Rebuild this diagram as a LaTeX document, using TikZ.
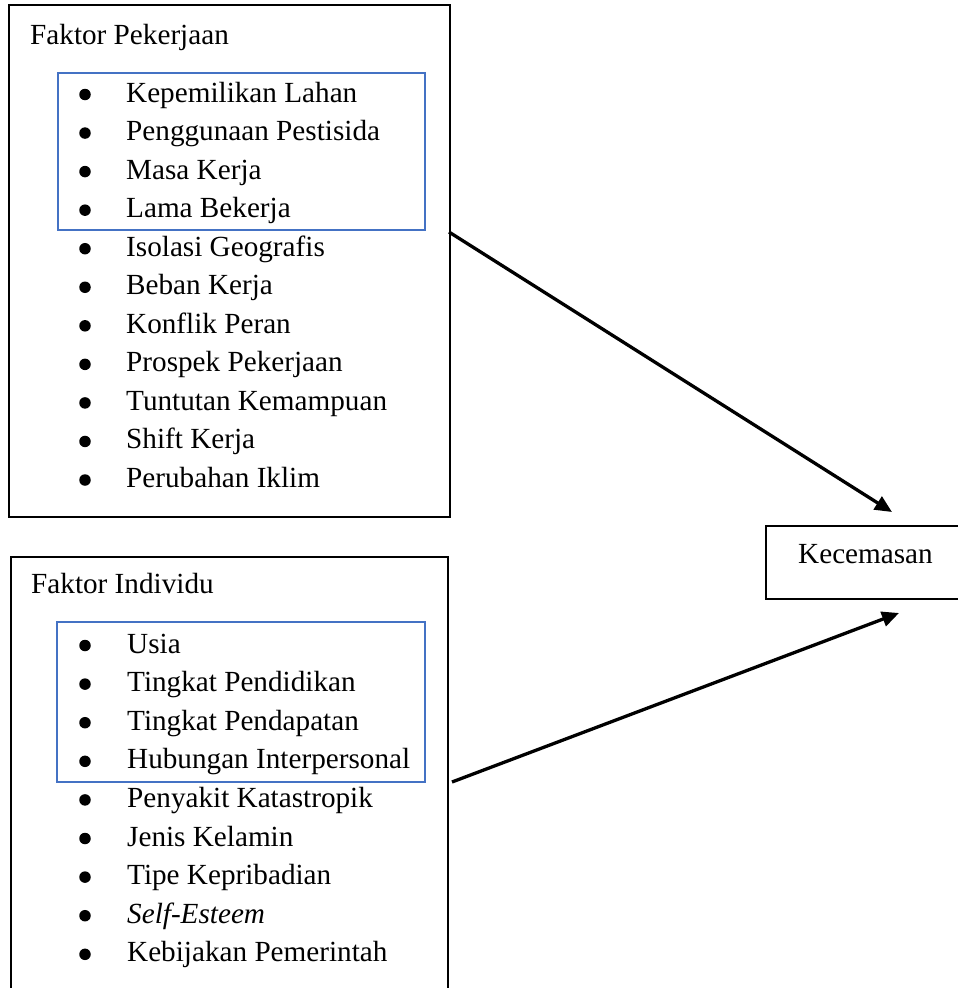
\documentclass[tikz,border=0pt]{standalone}
\usepackage{fontspec}
\setmainfont{Liberation Serif}
\usetikzlibrary{arrows.meta}
\definecolor{wordblue}{HTML}{4472C4}
\begin{document}
\begin{tikzpicture}[x=1pt,y=-1pt,
  outerbox/.style={draw=black, line width=1.5pt, inner sep=0pt, rectangle},
  bluebox/.style={draw=wordblue, line width=1.6pt},
  txt/.style={inner sep=0pt, anchor=base west, font=\fontsize{29.2}{35}\selectfont},
  bul/.style={circle, fill=black, inner sep=0pt, minimum size=11.5pt},
  arr/.style={line width=3.3pt, -{Triangle[length=17pt,width=15pt]}}]
\useasboundingbox (0,0) rectangle (958,988);
\clip (0,0) rectangle (958,988);
% outer boxes
\node[outerbox, minimum width=441pt, minimum height=512pt] (b1) at (229.5,261) {};
\node[outerbox, minimum width=437pt, minimum height=460pt] (b2) at (229.5,787) {};
\node[outerbox, minimum width=250pt, minimum height=73pt] (kbox) at (891,562.5) {};
% inner blue boxes
\draw[bluebox] (58,73) rectangle (425,230);
\draw[bluebox] (57,622) rectangle (425,782);
% titles
\node[txt] (t1) at (30,44) {Faktor Pekerjaan};
\node[txt] (t2) at (31,593) {Faktor Individu};
\node[txt] (kec) at (798,563) {Kecemasan};
% list 1
\foreach \t [count=\i from 0] in {Kepemilikan Lahan, Penggunaan Pestisida, Masa Kerja, Lama Bekerja, Isolasi Geografis, Beban Kerja, Konflik Peran, Prospek Pekerjaan, Tuntutan Kemampuan, Shift Kerja, Perubahan Iklim}{
  \node[bul] (pb\i) at (85,{94.5+38.55*\i}) {};
  \node[txt] (p\i) at (126,{102+38.55*\i}) {\t};
}
% list 2
\foreach \t [count=\i from 0] in {Usia, Tingkat Pendidikan, Tingkat Pendapatan, Hubungan Interpersonal, Penyakit Katastropik, Jenis Kelamin, Tipe Kepribadian, {\itshape Self-Esteem}, Kebijakan Pemerintah}{
  \node[bul] (qb\i) at (85,{645.5+38.6*\i}) {};
  \node[txt] (q\i) at (127,{653+38.6*\i}) {\t};
}
% arrows
\coordinate (a1s) at (449,232);
\coordinate (a1e) at (892,512);
\coordinate (a2s) at (452,782);
\coordinate (a2e) at (899,613);
\draw[arr] (a1s) -- (a1e);
\draw[arr] (a2s) -- (a2e);
\end{tikzpicture}
\end{document}
